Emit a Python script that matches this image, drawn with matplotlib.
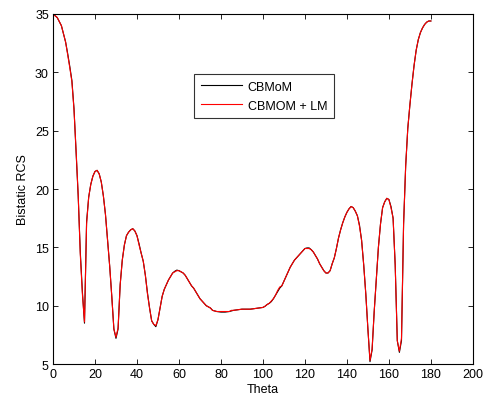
import numpy as np
import matplotlib
matplotlib.use('Agg')
import matplotlib.pyplot as plt

plt.rcParams['font.family'] = ['Liberation Sans', 'DejaVu Sans']

# bistatic RCS, theta in degrees
theta = [0, 2, 4, 6, 7, 8, 9, 10, 11, 12, 13, 14, 15, 16, 17, 18, 19, 20,
         21, 22, 23, 24, 25, 26, 27, 28, 29, 30, 31, 32, 33, 34, 35, 36, 37,
         38, 39, 40, 41, 42, 43, 44, 45, 46, 47, 48, 49, 50, 51, 52, 53, 54,
         55, 56, 57, 58, 59, 60, 61, 62, 63, 64, 65, 66, 67, 68, 69, 70, 71,
         72, 73, 74, 75, 76, 77, 78, 80, 82, 84, 85, 86, 88, 90, 92, 94, 96,
         98, 100, 101, 102, 103, 104, 105, 106, 107, 108, 109, 110, 111, 112,
         113, 114, 115, 116, 117, 118, 119, 120, 121, 122, 123, 124, 125, 126,
         127, 128, 129, 130, 131, 132, 133, 134, 135, 136, 137, 138, 139, 140,
         141, 142, 143, 144, 145, 146, 147, 148, 149, 150, 151, 152, 153, 154,
         155, 156, 157, 158, 159, 160, 161, 162, 163, 164, 165, 166, 167, 168,
         169, 170, 171, 172, 173, 174, 175, 176, 177, 178, 179, 180]

rcs_mom = [35.0, 34.7, 34.0, 32.6, 31.6, 30.5, 29.3, 26.9, 23.2, 19.4, 14.6,
           11.2, 8.5, 17.2, 19.3, 20.4, 21.1, 21.5, 21.6, 21.3, 20.6, 19.4,
           17.8, 15.6, 13.4, 10.8, 8.0, 7.2, 8.0, 11.8, 13.9, 15.2, 16.0,
           16.3, 16.5, 16.6, 16.4, 16.0, 15.3, 14.5, 13.8, 12.6, 11.1, 9.8,
           8.7, 8.4, 8.2, 8.8, 9.8, 10.8, 11.4, 11.8, 12.2, 12.5, 12.8, 12.95,
           13.05, 13.0, 12.9, 12.8, 12.6, 12.3, 12.0, 11.7, 11.5, 11.2, 10.9,
           10.6, 10.4, 10.2, 10.0, 9.9, 9.8, 9.6, 9.55, 9.5, 9.45, 9.45, 9.5,
           9.55, 9.6, 9.65, 9.7, 9.7, 9.7, 9.75, 9.8, 9.85, 9.95, 10.1, 10.2,
           10.35, 10.6, 10.9, 11.2, 11.5, 11.7, 12.1, 12.5, 12.9, 13.3, 13.6,
           13.9, 14.1, 14.3, 14.5, 14.7, 14.9, 14.95, 14.95, 14.8, 14.6, 14.3,
           14.0, 13.6, 13.3, 13.0, 12.8, 12.8, 13.0, 13.6, 14.1, 14.9, 15.8,
           16.5, 17.1, 17.6, 18.0, 18.3, 18.5, 18.4, 18.1, 17.7, 16.9, 15.6,
           13.5, 11.0, 8.0, 5.2, 6.2, 9.5, 12.2, 15.0, 17.0, 18.4, 18.9, 19.2,
           19.1, 18.5, 17.5, 13.5, 7.0, 6.0, 7.0, 17.0, 22.0, 25.2, 27.2, 29.0,
           30.6, 31.9, 32.8, 33.4, 33.8, 34.1, 34.3, 34.4, 34.4]

rcs_lm = [35.0, 34.7, 34.0, 32.6, 31.5, 30.4, 29.2, 26.8, 23.3, 19.5, 14.4,
          11.0, 8.6, 17.0, 19.3, 20.4, 21.1, 21.5, 21.6, 21.3, 20.6, 19.4,
          17.8, 15.6, 13.4, 10.8, 8.0, 7.3, 8.1, 11.8, 13.9, 15.2, 16.0,
          16.3, 16.5, 16.6, 16.4, 16.0, 15.2, 14.5, 13.8, 12.6, 11.0, 9.8,
          8.7, 8.4, 8.3, 8.8, 9.8, 10.8, 11.4, 11.8, 12.2, 12.5, 12.8, 12.9,
          13.0, 13.0, 12.9, 12.8, 12.6, 12.3, 12.0, 11.7, 11.5, 11.2, 10.9,
          10.6, 10.4, 10.2, 10.0, 9.9, 9.8, 9.6, 9.55, 9.5, 9.5, 9.5, 9.5,
          9.6, 9.6, 9.65, 9.7, 9.7, 9.7, 9.75, 9.8, 9.85, 9.95, 10.1, 10.2,
          10.4, 10.6, 10.9, 11.3, 11.6, 11.7, 12.1, 12.5, 12.9, 13.3, 13.6,
          13.9, 14.1, 14.3, 14.5, 14.7, 14.9, 14.9, 14.9, 14.8, 14.6, 14.3,
          14.0, 13.6, 13.3, 13.0, 12.8, 12.8, 13.0, 13.6, 14.1, 14.9, 15.8,
          16.5, 17.1, 17.6, 18.0, 18.3, 18.5, 18.4, 18.1, 17.7, 16.8, 15.6,
          13.5, 11.0, 8.0, 5.3, 6.3, 9.5, 12.2, 15.0, 17.0, 18.4, 18.9, 19.2,
          19.1, 18.4, 17.5, 13.5, 7.0, 6.1, 7.2, 17.0, 22.0, 25.2, 27.2, 29.0,
          30.6, 31.9, 32.8, 33.4, 33.8, 34.1, 34.3, 34.4, 34.4]

fig = plt.figure(figsize=(4.84, 4.02), dpi=100)
ax = fig.add_axes([0.1095, 0.092, 0.8675, 0.8707])

ax.plot(theta, rcs_mom, 'k-', lw=0.8, label='CBMoM')
ax.plot(theta, rcs_lm, 'r-', lw=0.8, label='CBMOM + LM')

ax.set_xlim(0, 200)
ax.set_ylim(5, 35)
ax.set_xticks(np.arange(0, 201, 20))
ax.set_yticks(np.arange(5, 36, 5))
ax.tick_params(direction='in', top=True, right=True, length=3.5,
               width=0.6, labelsize=9, pad=3)
for s in ax.spines.values():
    s.set_linewidth(0.8)

ax.set_xlabel('Theta', fontsize=9, labelpad=2)
ax.set_ylabel('Bistatic RCS', fontsize=9, labelpad=4)

leg = ax.legend(loc='upper left', bbox_to_anchor=(0.336, 0.829), fontsize=9,
                frameon=True, fancybox=False, edgecolor='black',
                borderpad=0.55, handlelength=3.3, labelspacing=0.55,
                handletextpad=0.45, borderaxespad=0)
leg.get_frame().set_linewidth(0.8)

plt.savefig('out.png', dpi=100)
